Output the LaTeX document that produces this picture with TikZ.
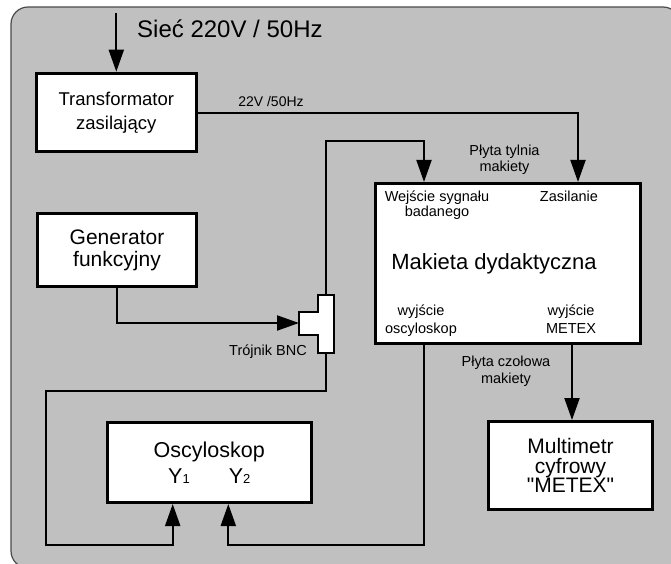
\documentclass[tikz,border=0pt]{standalone}
\usepackage{fontspec}
\setmainfont{Liberation Sans}[Ligatures=TeXOff]
\usetikzlibrary{arrows.meta}
\newcommand\myfs[2]{\fontsize{#1pt}{#2pt}\selectfont}
\definecolor{bg}{HTML}{C0C0C0}
\definecolor{bgline}{HTML}{4A4A4A}
\begin{document}
\begin{tikzpicture}[x=1pt,y=-1pt,
  box/.style={draw, line width=3pt, fill=white, inner sep=0pt, align=center},
  conn/.style={line width=2pt},
  arr/.style={conn, -{Triangle[length=22pt,width=15pt]}},
  lbl/.style={inner sep=0pt},
  small/.style={lbl, font=\myfs{14.5}{16}, anchor=base}]
\clip (0,0) rectangle (671,563);
\draw[fill=bg, draw=bgline, line width=1.2pt, rounded corners=17pt] (11,7) rectangle (680,568);

% boxes
\node[box, minimum width=160pt, minimum height=78.6pt, font=\myfs{18.5}{24}] (trafo) at (116.3,112.5) {Transformator\\zasilający};
\node[box, minimum width=159pt, minimum height=73.6pt, font=\myfs{21}{22}] (gen) at (117,250) {Generator\\funkcyjny};
\node[box, minimum width=264.7pt, minimum height=160.5pt] (mak) at (507.8,263.7) {};
\node[box, minimum width=203.7pt, minimum height=80pt, font=\myfs{21.5}{26.3}] (osc) at (209.3,462.5) {Oscyloskop\\Y{\myfs{13}{13}1}\hspace{39pt}Y{\myfs{13}{13}2}};
\node[box, minimum width=164pt, minimum height=88pt, font=\myfs{21}{19.5}] (multi) at (570.5,465.5) {Multimetr\\cyfrowy\\"METEX"};

% Trojnik BNC
\filldraw[fill=white, line width=2.5pt] (318,295) -- (334,295) -- (334,353) -- (318,353) -- (318,335) -- (299,335) -- (299,312) -- (318,312) -- cycle;
\coordinate (ttop) at (326,295);
\coordinate (tbot) at (326,353);
\coordinate (tin) at (299,323);

% connection points
\path (mak.north) ++(-83.8,0) coordinate (mkin);
\path (mak.north) ++(70.2,0) coordinate (mkzas);
\path (mak.south) ++(-83.8,0) coordinate (mkosc);
\path (mak.south) ++(64.2,0) coordinate (mkmet);
\path (osc.south) ++(-36.6,0) coordinate (y1in);
\path (osc.south) ++(19,0) coordinate (y2in);
\coordinate (mains) at (116.3,13);
\coordinate (bendA) at (424,141);
\coordinate (c1) at (46,391);
\coordinate (c2) at (46,545);
\coordinate (c3) at (424,545);

% connectors
\draw[arr] (mains) -- (trafo.north);
\draw[arr] (trafo.east) -| (mkzas);
\draw[arr] (ttop) |- (bendA) -- (mkin);
\draw[arr] (gen.south) |- (tin);
\draw[arr] (tbot) |- (c1) -- (c2) -| (y1in);
\draw[arr] (mkosc) -- (c3) -| (y2in);
\draw[arr] (mkmet) -- (mkmet |- multi.north);

% labels
\node[lbl, font=\myfs{24}{24}, anchor=base west] (mainslbl) at (137,37) {Sieć 220V / 50Hz};
\node[lbl, font=\myfs{14}{14}, anchor=base] (vlbl) at (271,106) {22V /50Hz};
\node[small] (tyl1) at (504.5,155) {Płyta tylnia};
\node[small] (tyl2) at (504.5,171) {makiety};
\node[small, anchor=base east] (tlbl) at (307,355.7) {Trójnik BNC};
\node[small] (czo1) at (506,366.7) {Płyta czołowa};
\node[small] (czo2) at (506,383) {makiety};
\node[small] (min1) at (437,201.7) {Wejście sygnału};
\node[small] (min2) at (437,216.7) {badanego};
\node[small] (mzas) at (569,201.7) {Zasilanie};
\node[lbl, font=\myfs{22}{22}, anchor=base] (mtitle) at (494,269) {Makieta dydaktyczna};
\node[small] (mout1) at (421,315.7) {wyjście};
\node[small] (mout2) at (421,333.3) {oscyloskop};
\node[small] (mmet1) at (571,315.7) {wyjście};
\node[small] (mmet2) at (571,333.3) {METEX};
\end{tikzpicture}
\end{document}
